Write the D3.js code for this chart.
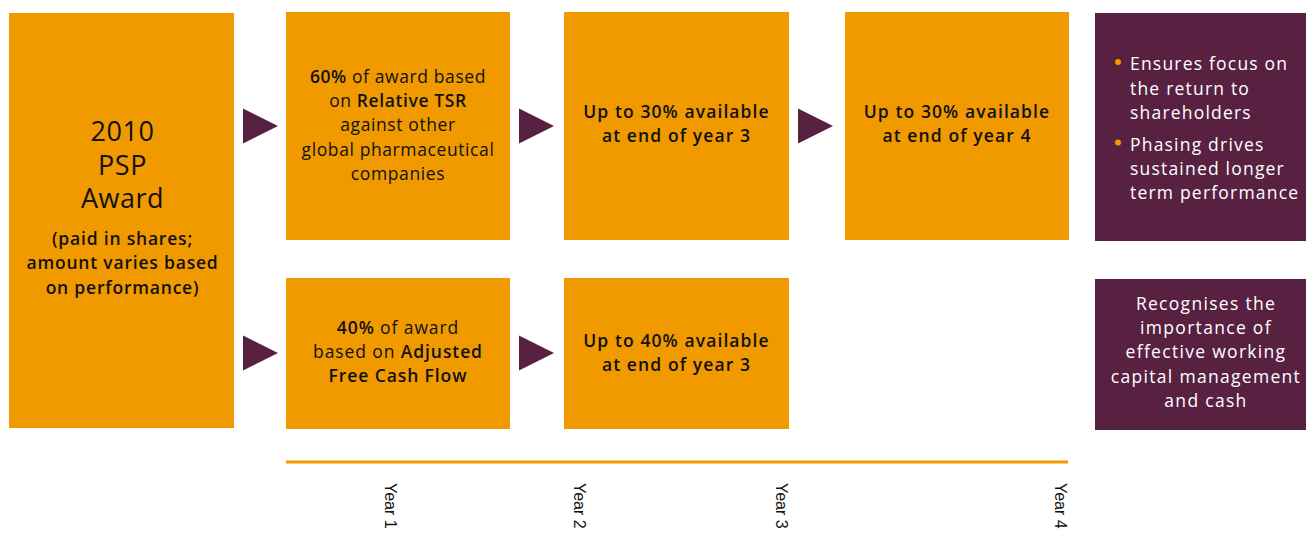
<!DOCTYPE html>
<html>
<head>
<meta charset="utf-8">
<script src="https://cdn.jsdelivr.net/npm/d3@7"></script>
<style>
  body { margin: 0; background: #fff; }
  svg { display: block; }
</style>
</head>
<body>
<svg id="chart" width="1306" height="533"></svg>
<script>
// ---- content ----
const yearLabels = ["Year 1", "Year 2", "Year 3", "Year 4"];
const yearMarks = [0.53, 1.5, 2.53, 3.96];   // position along the 4-year timeline

const awardTitle = ["2010", "PSP", "Award"];
const awardNote = ["(paid in shares;", "amount varies based", "on performance)"];

// each line is a list of [text, bold]
const tsrText = [
  [["60%", 1], [" of award based", 0]],
  [["on ", 0], ["Relative TSR", 1]],
  [["against other", 0]],
  [["global pharmaceutical", 0]],
  [["companies", 0]]
];
const fcfText = [
  [["40%", 1], [" of award", 0]],
  [["based on ", 0], ["Adjusted", 1]],
  [["Free Cash Flow", 1]]
];
const tsrYear3 = ["Up to 30% available", "at end of year 3"];
const tsrYear4 = ["Up to 30% available", "at end of year 4"];
const fcfYear3 = ["Up to 40% available", "at end of year 3"];

const tsrBenefits = [
  ["Ensures focus on", "the return to", "shareholders"],
  ["Phasing drives", "sustained longer", "term performance"]
];
const fcfBenefit = ["Recognises the", "importance of", "effective working", "capital management", "and cash"];

// ---- style ----
const orange = "#F09A00";
const purple = "#582142";
const font = "'Open Sans', sans-serif";
const fs = 17.5, lh = 24.3;

const svg = d3.select("#chart");

// column x positions and widths
const colX = [9, 286, 564, 845, 1095];
const colW = [225, 224, 225, 224, 222];
const rowTop = {y: 12, h: 228}, rowBottom = {y: 278, h: 151};

let box = (x, y, w, h, fill) =>
  svg.append("rect").attr("x", x).attr("y", y).attr("width", w).attr("height", h).attr("fill", fill);

// write centred lines; lines are arrays of [text,bold] segments or plain strings
let writeLines = (lines, cx, cy, color, weight, spacing) => {
  let y0 = cy - (lines.length - 1) * lh / 2;
  let t = svg.append("g").selectAll("text")
    .data(lines)
    .join("text")
    .attr("x", cx)
    .attr("y", (d, i) => y0 + i * lh + fs * 0.36)
    .attr("text-anchor", "middle")
    .style("font-family", font)
    .style("font-size", fs + "px")
    .style("letter-spacing", spacing + "px")
    .style("fill", color)
    .style("font-weight", weight || 400);
  t.selectAll("tspan")
    .data(d => typeof d === "string" ? [[d, 0]] : d)
    .join("tspan")
    .style("font-weight", d => d[1] ? 600 : null)
    .text(d => d[0]);
};

// ---- award box ----
box(colX[0], 13, colW[0], 415, orange);
let awardCx = colX[0] + colW[0] / 2 + 1;
svg.append("g").selectAll("text")
  .data(awardTitle)
  .join("text")
  .attr("x", awardCx)
  .attr("y", (d, i) => 141 + i * 33.5)
  .attr("text-anchor", "middle")
  .style("font-family", font)
  .style("font-size", "27px")
  .style("letter-spacing", "0.5px")
  .style("fill", "#111")
  .text(d => d);
svg.append("g").selectAll("text")
  .data(awardNote)
  .join("text")
  .attr("x", awardCx)
  .attr("y", (d, i) => 245 + i * 24.3)
  .attr("text-anchor", "middle")
  .style("font-family", font)
  .style("font-size", fs + "px")
  .style("font-weight", 600)
  .style("letter-spacing", "0.8px")
  .style("fill", "#111")
  .text(d => d);

// ---- orange boxes ----
box(colX[1], rowTop.y, colW[1], rowTop.h, orange);
writeLines(tsrText, colX[1] + colW[1] / 2, rowTop.y + rowTop.h / 2 - 1, "#111", 400, 0.6);
box(colX[2], rowTop.y, colW[2], rowTop.h, orange);
writeLines(tsrYear3, colX[2] + colW[2] / 2, rowTop.y + rowTop.h / 2 - 2.5, "#111", 600, 1.1);
box(colX[3], rowTop.y, colW[3], rowTop.h, orange);
writeLines(tsrYear4, colX[3] + colW[3] / 2, rowTop.y + rowTop.h / 2 - 2.5, "#111", 600, 1.1);

box(colX[1], rowBottom.y, colW[1], rowBottom.h, orange);
writeLines(fcfText, colX[1] + colW[1] / 2, rowBottom.y + rowBottom.h / 2 - 2, "#111", 400, 0.9);
box(colX[2], rowBottom.y, colW[2], rowBottom.h, orange);
writeLines(fcfYear3, colX[2] + colW[2] / 2, rowBottom.y + rowBottom.h / 2 - 1, "#111", 600, 1.1);

// ---- purple boxes ----
box(colX[4], 13, colW[4], 228, purple);
let by = 64;
tsrBenefits.forEach(group => {
  svg.append("circle").attr("cx", 1118).attr("cy", by - 2).attr("r", 3).attr("fill", orange);
  group.forEach(line => {
    svg.append("text")
      .attr("x", 1130).attr("y", by + fs * 0.36)
      .style("font-family", font).style("font-size", fs + "px")
      .style("letter-spacing", "1.2px").style("fill", "#fff")
      .text(line);
    by += lh;
  });
  by += 7.5;
});

box(colX[4], 279, colW[4], 151, purple);
writeLines(fcfBenefit, 1206, 352, "#fff", 400, 1.3);

// ---- arrows ----
let arrows = [[243, 126], [519, 126], [798, 126], [243, 353], [519, 353]];
svg.append("g").selectAll("path")
  .data(arrows)
  .join("path")
  .attr("transform", d => `translate(${d[0]},${d[1]})`)
  .attr("d", "M0,-17.5L35,0L0,17.5Z")
  .attr("fill", purple);

// ---- timeline ----
let x = d3.scaleLinear().domain([0, 4]).range([286, 1068]);
svg.append("line")
  .attr("x1", x(0)).attr("x2", x(4))
  .attr("y1", 462).attr("y2", 462)
  .attr("stroke", orange).attr("stroke-width", 3);

svg.append("g").selectAll("text")
  .data(yearLabels)
  .join("text")
  .attr("transform", (d, i) => `translate(${x(yearMarks[i]) - 5},483) rotate(90)`)
  .style("font-family", "'Liberation Sans', Arial, sans-serif")
  .style("font-size", "16px")
  .style("fill", "#111")
  .text(d => d);
</script>
</body>
</html>
